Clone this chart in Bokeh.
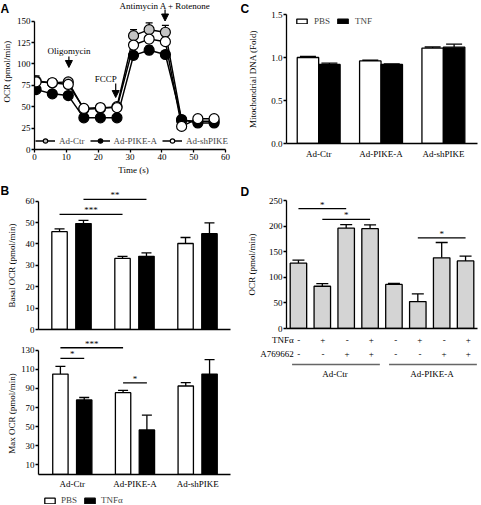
import numpy as np
from bokeh.plotting import figure
from bokeh.layouts import row, column
from bokeh.models import (Range1d, FixedTicker, Whisker, TeeHead, ColumnDataSource,
                          Label, Legend, LegendItem, Arrow, NormalHead)
from bokeh.core.properties import value
from bokeh.embed import file_html
from bokeh.resources import INLINE

SERIF = "Liberation Serif"
SANS = "Liberation Sans"

# ---------------- Panel A data ----------------
time_s = [0.5, 5.6, 10.6, 15.5, 20.7, 25.9, 31.1, 36.0, 41.1, 46.2, 51.3, 56.4]
ocr_ctr = [80, 78, 79, 47, 48, 50, 133, 140, 137, 34, 33, 33]
ocr_ctr_err = [6, 3, 3, 2, 2, 3, 7, 8, 8, 2, 2, 2]
ocr_pike = [70, 65, 63, 37, 37, 37, 110, 116, 111, 35, 31, 31]
ocr_pike_err = [2, 2, 2, 2, 2, 2, 3, 5, 3, 2, 2, 2]
ocr_shpike = [79, 78, 76, 48, 49, 49, 122, 129, 126, 27, 36, 36]
ocr_shpike_err = [3, 2, 2, 2, 2, 2, 3, 3, 3, 2, 2, 2]
series_names = ["Ad-Ctr", "Ad-PIKE-A", "Ad-shPIKE"]
injection_names = ["Oligomycin", "FCCP", "Antimycin A + Rotenone"]
injection_times = [10.8, 25.5, 41.0]
a_xticks = [0, 10, 20, 30, 40, 50, 60]
a_yticks = [0, 25, 50, 75, 100, 125, 150]

# ---------------- Panel B data ----------------
groups = ["Ad-Ctr", "Ad-PIKE-A", "Ad-shPIKE"]
treatments_b = ["PBS", "TNFα"]
basal_pbs = [45.7, 33.2, 40.2]
basal_pbs_err = [1.3, 1.0, 2.8]
basal_tnf = [49.5, 34.2, 44.8]
basal_tnf_err = [1.5, 1.6, 5.0]
basal_yticks = [0, 10, 20, 30, 40, 50, 60]
# (group a, treatment a, group b, treatment b, bracket height, label)
basal_sig = [(0, 0, 1, 0, 53.8, "***"), (0, 1, 1, 1, 60.8, "**")]
max_pbs = [105.0, 85.5, 92.5]
max_pbs_err = [8.0, 2.5, 3.5]
max_tnf = [78.0, 46.5, 105.0]
max_tnf_err = [2.5, 15.5, 15.0]
max_yticks = [10, 30, 50, 70, 90, 110, 130]
max_sig = [(0, 0, 1, 0, 132.5, "***"), (0, 0, 0, 1, 121.3, "*"), (1, 0, 1, 1, 95.7, "*")]

# ---------------- Panel C data ----------------
treatments_c = ["PBS", "TNF"]
mtdna_pbs = [1.00, 0.96, 1.11]
mtdna_pbs_err = [0.012, 0.008, 0.012]
mtdna_tnf = [0.92, 0.92, 1.12]
mtdna_tnf_err = [0.015, 0.005, 0.035]
c_yticks = [0.0, 0.5, 1.0, 1.5]

# ---------------- Panel D data ----------------
d_ocr = [127.5, 82.5, 196.0, 195.0, 86.0, 52.5, 138.0, 132.0]
d_ocr_err = [6.0, 5.0, 7.0, 7.5, 2.0, 15.0, 30.0, 9.5]
d_tnf = ["-", "+", "-", "+", "-", "+", "-", "+"]
d_a769662 = ["-", "-", "+", "+", "-", "-", "+", "+"]
d_groups = ["Ad-Ctr"] * 4 + ["Ad-PIKE-A"] * 4
d_row_names = ["TNFα", "A769662"]
d_yticks = [0, 50, 100, 150, 200, 250]
# (bar a, bar b, bracket height, label)
d_sig = [(0, 2, 234, "*"), (1, 3, 213, "*"), (5, 7, 177, "*")]

y_titles = ["OCR (pmol/min)", "Basal OCR (pmol/min)", "Max OCR (pmol/min)",
            "Mitochondrial DNA (Fold)", "OCR (pmol/min)"]
panel_names = ["A", "B", "C", "D"]


def base_fig(width, height, xr, yr, left, right, top, bottom):
    p = figure(width=width, height=height, x_range=xr, y_range=yr, title=None,
               output_backend="svg", toolbar_location=None,
               min_border_left=left, min_border_right=right,
               min_border_top=top, min_border_bottom=bottom)
    p.outline_line_color = None
    p.xgrid.visible = False
    p.ygrid.visible = False
    p.background_fill_color = "white"
    p.border_fill_color = "white"
    for ax in p.axis:
        ax.axis_line_width = 1.3
        ax.axis_line_color = "black"
        ax.major_tick_line_width = 1.3
        ax.major_tick_line_color = "black"
        ax.major_tick_out = 3
        ax.major_tick_in = 0
        ax.minor_tick_out = 0
        ax.minor_tick_in = 0
        ax.major_label_text_font = SERIF
        ax.major_label_text_font_size = "9px"
        ax.major_label_text_color = "black"
        ax.major_label_standoff = 1
        ax.axis_label_text_font = SERIF
        ax.axis_label_text_font_size = "9px"
        ax.axis_label_text_font_style = "normal"
        ax.axis_label_text_color = "black"
        ax.axis_label_standoff = 2
    return p


def blank_fig(width, height, xr, yr, left=0, right=0):
    g = figure(width=width, height=height, x_range=xr, y_range=yr, title=None,
               output_backend="svg", toolbar_location=None, x_axis_type=None,
               y_axis_type=None, min_border_left=left, min_border_right=right,
               min_border_top=0, min_border_bottom=0)
    g.outline_line_color = None
    g.background_fill_color = "white"
    g.border_fill_color = "white"
    return g


def gutter(width, height, letters, letter_y, title, title_x, title_y):
    g = blank_fig(width, height, Range1d(0, width), Range1d(height, 0))
    g.text(x=[0] * len(letters), y=letter_y, text=letters, text_font=value(SANS),
           text_font_style="bold", text_font_size="12px", text_align="left",
           text_baseline="middle", text_color="black")
    g.text(x=title_x, y=title_y, text=title, angle=np.pi / 2, text_font=value(SERIF),
           text_font_size="9px", text_align="center", text_baseline="middle",
           text_color="black")
    return g


def add_err(p, xs, tops, errs, head):
    src = ColumnDataSource(dict(base=list(xs), lower=list(tops),
                                upper=[t + e for t, e in zip(tops, errs)]))
    w = Whisker(source=src, base="base", lower="lower", upper="upper",
                line_color="black", line_width=1.3, lower_head=None,
                upper_head=TeeHead(size=head, line_color="black", line_width=1.3))
    p.add_layout(w)


def add_sig(p, x0, x1, h, txt):
    p.segment(x0=[x0], y0=[h], x1=[x1], y1=[h], line_color="black", line_width=1.3)
    p.text(x=[(x0 + x1) / 2], y=[h], text=[txt], text_font=value(SERIF),
           text_font_size="9px", text_align="center", text_baseline="bottom",
           y_offset=1, text_color="black")


# ================= Panel A =================
a_px = 193 / 60.0
pA = base_fig(227, 180, Range1d(0, 200 / a_px), Range1d(0, 149 / 0.856), 19, 8, 0, 31)
pA.xaxis.ticker = FixedTicker(ticks=a_xticks)
pA.xaxis.bounds = (a_xticks[0], a_xticks[-1])
pA.yaxis.ticker = FixedTicker(ticks=a_yticks)
pA.yaxis.bounds = (a_yticks[0], a_yticks[-1])
pA.xaxis.axis_label = "Time (s)"

a_series = [(ocr_ctr, ocr_ctr_err, "#c4c4c4"),
            (ocr_pike, ocr_pike_err, "black"),
            (ocr_shpike, ocr_shpike_err, "white")]
items = []
for name, (vals, errs, col) in zip(series_names, a_series):
    add_err(pA, time_s, vals, errs, 7)
for name, (vals, errs, col) in zip(series_names, a_series):
    ln = pA.line(time_s, vals, line_color="black", line_width=1.5)
    sc = pA.scatter(time_s, vals, size=10, fill_color=col, line_color="black", line_width=1.2)
    items.append(LegendItem(label=name, renderers=[ln, sc]))
legA = Legend(items=items, orientation="horizontal", location=(1, 3),
              border_line_color=None, background_fill_alpha=0, padding=0, margin=0,
              spacing=5, label_standoff=4, glyph_width=20, glyph_height=11,
              label_text_font=SERIF, label_text_font_size="9px")
pA.add_layout(legA)

arrow_spans = [(108.6, 95.8), (77.1, 60.7), (163.6, 150.1)]
text_y = [114.5, 81.8, 174.0]
text_dx = [0, -10, 0]
for name, t, (ys, ye), ty, dx in zip(injection_names, injection_times, arrow_spans,
                                     text_y, text_dx):
    pA.add_layout(Arrow(x_start=t, y_start=ys, x_end=t, y_end=ye, line_width=1.2,
                        line_color="black",
                        end=NormalHead(size=7, fill_color="black", line_color="black")))
    pA.add_layout(Label(x=t, y=ty, x_offset=dx, text=name, text_font=SERIF,
                        text_font_size="9px", text_align="center",
                        text_baseline="top" if ty > 160 else "middle", text_color="black"))
gA = gutter(13, 180, [panel_names[0]], [10.5], [y_titles[0]], [6.5], [86])

# ================= Panel B =================
xb = np.arange(1, len(groups) + 1, dtype=float)
off_b, w_b = 0.19, 0.245
b_offsets = [-off_b, off_b]
b_px = 196 / 3.048


def b_bars(p, pbs, tnf):
    r1 = p.vbar(x=xb + b_offsets[0], top=pbs, width=w_b, fill_color="white",
                line_color="black", line_width=1.3)
    r2 = p.vbar(x=xb + b_offsets[1], top=tnf, width=w_b, fill_color="black",
                line_color="black", line_width=1.3)
    return r1, r2


def b_panel(height, xr, yr_end, left, top, bottom, pbs, pbs_err, tnf, tnf_err, yticks,
            sig, bounds):
    p = base_fig(223, height, Range1d(*xr), Range1d(0, yr_end), left, 10, top, bottom)
    p.yaxis.ticker = FixedTicker(ticks=yticks)
    p.yaxis.bounds = bounds
    b_bars(p, pbs, tnf)
    add_err(p, xb + b_offsets[0], pbs, pbs_err, 10)
    add_err(p, xb + b_offsets[1], tnf, tnf_err, 10)
    for ga, ta, gb, tb, h, txt in sig:
        add_sig(p, xb[ga] + b_offsets[ta], xb[gb] + b_offsets[tb], h, txt)
    return p


pBt = b_panel(155, (0.476, 3.524), 65.9, 17, 8, 6, basal_pbs, basal_pbs_err,
              basal_tnf, basal_tnf_err, basal_yticks, basal_sig, (0, 60))
pBt.xaxis.ticker = FixedTicker(ticks=[])
pBt.xaxis.major_label_text_font_size = "0px"

xr_bb = (3.524 - 197 / b_px, 3.524)
pBb = b_panel(156, xr_bb, 145.3, 16, 0, 14, max_pbs, max_pbs_err, max_tnf, max_tnf_err,
              max_yticks, max_sig, (0, 130))
pBb.xaxis.ticker = FixedTicker(ticks=list(xb))
pBb.xaxis.major_label_overrides = {float(x): g for x, g in zip(xb, groups)}
pBb.xaxis.major_tick_out = 0
pBb.xaxis.major_label_standoff = 4

# key strip under panel B: the same bars, hidden, serve only as legend glyph sources
pL = blank_fig(223, 14, Range1d(*xr_bb), Range1d(-2, -1), left=16, right=10)
lr1, lr2 = b_bars(pL, max_pbs, max_tnf)
lr1.visible = False
lr2.visible = False
legB = Legend(items=[LegendItem(label=treatments_b[0], renderers=[lr1]),
                     LegendItem(label=treatments_b[1], renderers=[lr2])],
              orientation="horizontal", location=(5, 0), border_line_color=None,
              background_fill_alpha=0, padding=0, margin=0, spacing=2, label_standoff=5,
              glyph_width=13, glyph_height=7, label_text_font=SERIF,
              label_text_font_size="9px", inactive_fill_alpha=0)
pL.add_layout(legB)
gB = gutter(17, 325, [panel_names[1]], [10], y_titles[1:3], [11.5, 11.5], [85, 233])

# ================= Panel C =================
xc = np.arange(1, len(groups) + 1, dtype=float)
off_c = 0.172
pC = base_fig(221, 175, Range1d(0.484, 3.547), Range1d(0, 1.5), 21, 4, 14, 32)
pC.yaxis.ticker = FixedTicker(ticks=c_yticks)
pC.yaxis.major_label_overrides = {t: f"{t:.1f}" for t in c_yticks}
pC.xaxis.ticker = FixedTicker(ticks=list(xc))
pC.xaxis.major_label_overrides = {float(x): g for x, g in zip(xc, groups)}
pC.xaxis.major_tick_out = 0
pC.xaxis.major_label_standoff = 5
rc1 = pC.vbar(x=xc - off_c, top=mtdna_pbs, width=2 * off_c, fill_color="white",
              line_color="black", line_width=1.3)
rc2 = pC.vbar(x=xc + off_c, top=mtdna_tnf, width=2 * off_c, fill_color="black",
              line_color="black", line_width=1.3)
add_err(pC, xc - off_c, mtdna_pbs, mtdna_pbs_err, 16)
add_err(pC, xc + off_c, mtdna_tnf, mtdna_tnf_err, 16)
legC = Legend(items=[LegendItem(label=treatments_c[0], renderers=[rc1]),
                     LegendItem(label=treatments_c[1], renderers=[rc2])],
              orientation="horizontal", location=(9, 117), border_line_color=None,
              background_fill_alpha=0, padding=0, margin=0, spacing=2, label_standoff=6,
              glyph_width=13, glyph_height=6, label_text_font=SERIF,
              label_text_font_size="9px")
pC.add_layout(legC)

# ================= Panel D =================
xd = np.arange(1, len(d_ocr) + 1, dtype=float)
d_left, d_right, d_w = 26, 1, 221
d_px = (d_w - d_left - d_right) / 8.0
pD = base_fig(d_w, 157, Range1d(0.5, 8.5), Range1d(0, 250), d_left, d_right, 25, 4)
pD.yaxis.ticker = FixedTicker(ticks=d_yticks)
pD.xaxis.ticker = FixedTicker(ticks=[])
pD.xaxis.major_label_text_font_size = "0px"
pD.vbar(x=xd, top=d_ocr, width=0.69, fill_color="#d4d4d4", line_color="black", line_width=1.3)
add_err(pD, xd, d_ocr, d_ocr_err, 12)
for a, b, h, txt in d_sig:
    add_sig(pD, xd[a], xd[b], h, txt)

# one gutter for panels C and D (letters and rotated axis titles)
gR = gutter(20, 332, panel_names[2:4], [8, 191], y_titles[3:5], [12.5, 11], [78.5, 264])

# table under panel D (same horizontal scale, starts 20px further left)
t_left = d_left + 20
pT = blank_fig(241, 173, Range1d(0.5 - t_left / d_px, 8.5 + d_right / d_px), Range1d(173, 0))
row_y = [7, 21]
for ry, signs, nm in zip(row_y, [d_tnf, d_a769662], d_row_names):
    pT.text(x=xd, y=[ry] * len(xd), text=signs, text_font=value(SERIF), text_font_size="9px",
            text_align="center", text_baseline="middle", text_color="black")
    pT.text(x=[xd[0]], y=[ry], text=[nm], x_offset=-5, text_font=value(SERIF),
            text_font_size="9px", text_align="right", text_baseline="middle",
            text_color="black")
uniq = list(dict.fromkeys(d_groups))
for g in uniq:
    pos = [x for x, gg in zip(xd, d_groups) if gg == g]
    pT.segment(x0=[min(pos) - 0.27], y0=[32], x1=[max(pos) + 0.35], y1=[32],
               line_color="#666666", line_width=1.3)
    pT.text(x=[(min(pos) + max(pos)) / 2], y=[41], text=[g], text_font=value(SERIF),
            text_font_size="9px", text_align="center", text_baseline="middle",
            text_color="black")

left_col = column(row(gA, pA), row(gB, column(pBt, pBb, pL)))
right_col = column(row(gR, column(pC, pD)), pT)
layout = row(left_col, right_col)
open("out.html", "w").write(file_html(layout, INLINE))
